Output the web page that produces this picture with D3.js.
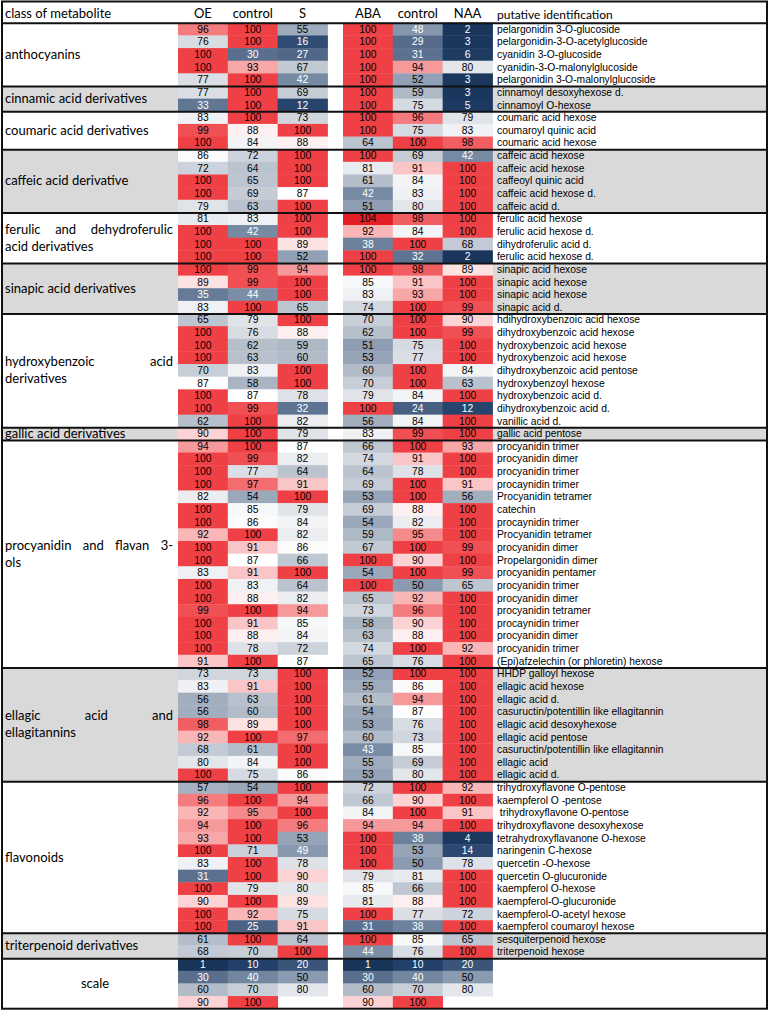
<!DOCTYPE html>
<html><head><meta charset="utf-8">
<script src="https://cdn.jsdelivr.net/npm/d3@7"></script>
<style>body{margin:0;background:#fff} svg{display:block}</style>
</head><body><svg id="c" width="769" height="1019"></svg>
<script>
const columns = ["OE","control","S","ABA","control","NAA"];
const classes = ["anthocyanins","cinnamic acid derivatives","coumaric acid derivatives","caffeic acid derivative","ferulic and dehydroferulic acid derivatives","sinapic acid derivatives","hydroxybenzoic acid derivatives","gallic acid derivatives","procyanidin and flavan 3-ols","ellagic acid and ellagitannins","flavonoids","triterpenoid derivatives"];
const classLines = [["anthocyanins"],["cinnamic acid derivatives"],["coumaric acid derivatives"],["caffeic acid derivative"],["ferulic and dehydroferulic","acid derivatives"],["sinapic acid derivatives"],["hydroxybenzoic acid","derivatives"],["gallic acid derivatives"],["procyanidin and flavan 3-","ols"],["ellagic acid and","ellagitannins"],["flavonoids"],["triterpenoid derivatives"]];
const classCounts = [5,2,3,5,4,4,9,1,18,9,12,2];
const identifications = ["pelargonidin 3-O-glucoside","pelargonidin-3-O-acetylglucoside","cyanidin 3-O-glucoside","cyanidin-3-O-malonylglucoside","pelargonidin 3-O-malonylglucoside",
"cinnamoyl desoxyhexose d.","cinnamoyl O-hexose",
"coumaric acid hexose","coumaroyl quinic acid","coumaric acid hexose",
"caffeic acid hexose","caffeic acid hexose","caffeoyl quinic acid","caffeic acid hexose d.","caffeic acid d.",
"ferulic acid hexose","ferulic acid hexose d.","dihydroferulic acid d.","ferulic acid hexose d.",
"sinapic acid hexose","sinapic acid hexose","sinapic acid hexose","sinapic acid d.",
"hdihydroxybenzoic acid hexose","dihydroxybenzoic acid hexose","hydroxybenzoic acid hexose","hydroxybenzoic acid hexose","dihydroxybenzoic acid pentose","hydroxybenzoyl hexose","hydroxybenzoic acid d.","dihydroxybenzoic acid d.","vanillic acid d.",
"gallic acid pentose",
"procyanidin trimer","procyanidin dimer","procyanidin trimer","procaynidin trimer","Procyanidin tetramer","catechin","procaynidin trimer","Procyanidin tetramer","procyanidin dimer","Propelargonidin dimer","procyanidin pentamer","procyanidin trimer","procyanidin dimer","procyanidin tetramer","procaynidin trimer","procyanidin dimer","procyanidin trimer","(Epi)afzelechin (or phloretin) hexose",
"HHDP galloyl hexose","ellagic acid hexose","ellagic acid d.","casuructin/potentillin like ellagitannin","ellagic acid desoxyhexose","ellagic acid pentose","casuructin/potentillin like ellagitannin","ellagic acid","ellagic acid d.",
"trihydroxyflavone O-pentose","kaempferol O -pentose"," trihydroxyflavone O-pentose","trihydroxyflavone desoxyhexose","tetrahydroxyflavanone O-hexose","naringenin C-hexose","quercetin -O-hexose","quercetin O-glucuronide","kaempferol O-hexose","kaempferol-O-glucuronide","kaempferol-O-acetyl hexose","kaempferol coumaroyl hexose",
"sesquiterpenoid hexose","triterpenoid hexose"];
const oe = [96,76,100,100,77, 77,33, 83,99,100, 86,72,100,100,79, 81,100,100,100, 100,89,35,83, 65,100,100,100,70,87,100,100,62, 90, 94,100,100,100,82,100,100,92,100,100,83,100,100,99,100,100,100,91, 73,83,56,56,98,92,68,80,100, 57,96,92,94,93,100,83,31,100,90,100,100, 61,68];
const control1 = [100,100,30,93,100, 100,100, 100,88,84, 72,64,65,69,63, 83,42,100,100, 99,99,44,100, 79,76,62,63,83,58,87,99,100, 100, 100,99,77,97,54,85,86,100,91,87,91,83,88,100,91,88,78,100, 73,91,63,60,89,100,61,84,75, 54,100,95,100,100,71,100,100,79,100,92,25, 100,70];
const s = [55,16,27,67,42, 69,12, 73,100,88, 100,100,100,87,100, 100,100,89,52, 94,100,100,65, 100,88,59,60,100,100,78,32,82, 79, 87,82,64,91,100,79,84,82,86,66,100,64,82,94,85,84,72,87, 100,100,100,100,100,97,100,100,86, 100,94,100,96,53,49,78,90,80,89,75,91, 64,100];
const aba = [100,100,100,100,100, 100,100, 100,100,64, 100,81,61,42,51, 104,92,38,100, 100,85,83,74, 70,62,51,53,60,70,79,100,56, 83, 66,74,64,69,53,69,54,59,67,100,54,100,65,73,58,63,74,65, 52,55,61,54,53,60,43,55,53, 72,66,84,94,100,100,100,79,85,81,100,31, 100,44];
const control2 = [48,29,31,94,52, 59,75, 96,75,100, 69,91,84,83,80, 98,84,100,32, 98,91,93,100, 100,100,75,77,100,100,84,24,84, 99, 100,91,78,100,100,88,82,95,100,90,100,50,92,96,90,88,100,76, 100,86,94,87,76,73,85,69,80, 100,90,100,94,38,53,50,81,66,88,77,38, 85,76];
const naa = [2,3,6,80,3, 3,5, 79,83,98, 42,100,100,100,100, 100,100,68,2, 89,100,100,99, 90,99,100,100,84,63,100,12,100, 100, 93,100,100,91,56,100,100,100,99,100,99,65,100,100,100,100,92,100, 100,100,100,100,100,100,100,100,100, 92,100,91,100,4,14,78,100,100,100,72,100, 65,100];
const scaleLabel = "scale";
const scaleValues = [[1,10,20],[30,40,50],[60,70,80],[90,100,null]];

const series = [oe, control1, s, aba, control2, naa];
const nData = identifications.length;
const nRows = nData + scaleValues.length;

const svg = d3.select("#c");
const L = 2, R = 767, TOP = 22.8, BOT = 1008.7;
const y = d3.scaleBand().domain(d3.range(nRows)).range([TOP, BOT]);
const xL = d3.scaleBand().domain([0,1,2]).range([178, 327.5]);
const xR = d3.scaleBand().domain([3,4,5]).range([343, 492.5]);
const colX = j => j < 3 ? xL(j) : xR(j);
const cw = xL.bandwidth();
const rh = y.bandwidth();

const color = d3.scaleLinear()
  .domain([1,10,20,30,40,50,60,70,80,87,100,104])
  .range(["#183459","#22406a","#3b5479","#5a6f8e","#7286a0","#8a9ab0","#b2bcc8","#c8ced8","#e3e6eb","#ffffff","#ef4145","#e41f25"])
  .clamp(true);

// group starts
const starts = [];
let acc = 0;
classCounts.forEach(c => { starts.push(acc); acc += c; });

// shaded backgrounds
const bg = svg.append("g");
classCounts.forEach((c, i) => {
  if (i % 2 === 1) {
    const y0 = y(starts[i]), h = c * rh;
    bg.append("rect").attr("x", L).attr("y", y0).attr("width", 178 - L).attr("height", h).attr("fill", "#d9d9d9");
    bg.append("rect").attr("x", 492.5).attr("y", y0).attr("width", R - 492.5).attr("height", h).attr("fill", "#d9d9d9");
  }
});

// cells
const cells = [];
for (let i = 0; i < nData; i++) for (let j = 0; j < 6; j++) cells.push({r: i, c: j, v: series[j][i]});
scaleValues.forEach((row, k) => {
  row.forEach((v, j) => {
    if (v != null) { cells.push({r: nData + k, c: j, v}); cells.push({r: nData + k, c: j + 3, v}); }
  });
});
const cg = svg.append("g");
cg.selectAll("rect").data(cells).join("rect")
  .attr("x", d => colX(d.c)).attr("y", d => y(d.r))
  .attr("width", cw + 0.4).attr("height", rh + 0.4)
  .attr("fill", d => color(d.v));
cg.selectAll("text").data(cells).join("text")
  .attr("x", d => colX(d.c) + cw / 2).attr("y", d => y(d.r) + rh / 2 + 3.6)
  .attr("text-anchor", "middle")
  .attr("font-family", "Liberation Sans, Arial, sans-serif").attr("font-size", 10.3)
  .attr("fill", d => d.v < 50 ? "#ffffff" : "#000000")
  .text(d => d.v);

// identifications
svg.append("g").selectAll("text").data(identifications).join("text")
  .attr("x", 497).attr("y", (d, i) => y(i) + rh / 2 + 3.6)
  .attr("font-family", "Liberation Sans, Arial, sans-serif").attr("font-size", 10.3)
  .style("white-space", "pre")
  .text(d => d);

// class labels
const lg = svg.append("g").attr("font-family", "Lato, sans-serif").attr("font-size", 13).attr("fill", "#000");
const labelLeft = 5, labelRight = 173;
function placeLine(words, yy, justify) {
  if (!justify || words.length < 2) {
    lg.append("text").attr("x", labelLeft).attr("y", yy).text(words.join(" "));
    return;
  }
  const nodes = words.map(w => lg.append("text").attr("y", yy).text(w));
  const widths = nodes.map(n => n.node().getComputedTextLength());
  const gap = (labelRight - labelLeft - d3.sum(widths)) / (words.length - 1);
  let xx = labelLeft;
  nodes.forEach((n, k) => { n.attr("x", xx); xx += widths[k] + gap; });
}
classLines.forEach((lines, i) => {
  const cy = y(starts[i]) + classCounts[i] * rh / 2;
  const lh = 17;
  lines.forEach((ln, k) => {
    const yy = cy + (k - (lines.length - 1) / 2) * lh + 4.5;
    placeLine(ln.split(" "), yy, lines.length > 1 && k < lines.length - 1);
  });
});
lg.append("text").attr("x", 95).attr("y", y(nData) + scaleValues.length * rh / 2 + 4.5)
  .attr("text-anchor", "middle").text(scaleLabel);

// header
const hg = svg.append("g").attr("font-family", "Lato, sans-serif").attr("font-size", 13).attr("fill", "#000");
hg.append("text").attr("x", 5).attr("y", 18).text("class of metabolite");
columns.forEach((c, j) => hg.append("text").attr("x", colX(j) + cw / 2).attr("y", 18).attr("text-anchor", "middle").text(c));
hg.append("text").attr("x", 497).attr("y", 19).attr("font-size", 12).text("putative identification");

// lines
const lines = svg.append("g").attr("stroke", "#111").attr("stroke-width", 2);
const bounds = starts.concat([nData]);
lines.selectAll("line").data(bounds).join("line")
  .attr("x1", L).attr("x2", R).attr("y1", d => y(d) + 0.5).attr("y2", d => y(d) + 0.5);
svg.append("rect").attr("x", L).attr("y", 1.5).attr("width", R - L).attr("height", BOT - 1.5)
  .attr("fill", "none").attr("stroke", "#111").attr("stroke-width", 2);
</script></body></html>
